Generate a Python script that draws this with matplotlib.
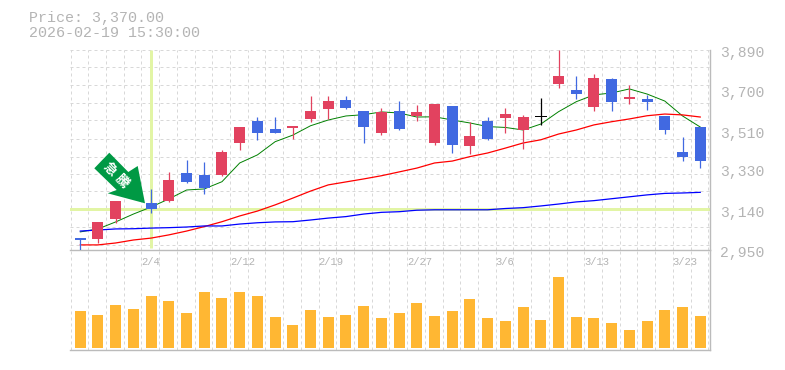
import matplotlib
matplotlib.use('Agg')
import matplotlib.pyplot as plt
from matplotlib.patches import Polygon

# Candle values (yen)
opens = [3006, 3003, 3096, 3279, 3169, 3180, 3312, 3302, 3302, 3453, 3556, 3519,
         3523, 3566, 3613, 3655, 3603, 3500, 3603, 3580, 3453, 3627, 3439, 3556,
         3570, 3514, 3578, 3730, 3702, 3622, 3754, 3660, 3660, 3580, 3411, 3528]
highs = [3006, 3082, 3180, 3302, 3237, 3315, 3372, 3362, 3420, 3528, 3576, 3576,
         3533, 3674, 3674, 3674, 3603, 3617, 3650, 3632, 3636, 3627, 3552, 3575,
         3617, 3585, 3664, 3890, 3768, 3777, 3758, 3726, 3679, 3580, 3481, 3528]
lows = [2950, 2984, 3077, 3208, 3124, 3177, 3266, 3215, 3299, 3420, 3467, 3501,
        3472, 3553, 3566, 3613, 3453, 3491, 3514, 3556, 3444, 3406, 3401, 3467,
        3500, 3425, 3537, 3711, 3660, 3603, 3603, 3636, 3608, 3495, 3368, 3335]
closes = [2997, 3082, 3180, 3223, 3144, 3279, 3271, 3241, 3409, 3528, 3501, 3501,
          3533, 3603, 3650, 3617, 3528, 3599, 3519, 3599, 3636, 3444, 3486, 3472,
          3589, 3575, 3578, 3768, 3683, 3758, 3646, 3669, 3646, 3514, 3387, 3370]

# Moving averages
ma_short = [3035, 3049, 3082, 3119, 3152, 3190, 3232, 3237, 3271, 3359, 3397, 3459,
            3490, 3534, 3561, 3580, 3586, 3599, 3594, 3575, 3576, 3561, 3547, 3530,
            3526, 3514, 3542, 3600, 3647, 3679, 3688, 3707, 3683, 3650, 3580, 3528]
ma_mid = [2974, 2974, 2983, 2997, 3006, 3021, 3039, 3060, 3083, 3110, 3133, 3162,
          3194, 3227, 3256, 3270, 3284, 3299, 3317, 3335, 3359, 3368, 3389, 3406,
          3429, 3453, 3468, 3495, 3514, 3538, 3553, 3566, 3581, 3589, 3585, 3575]
ma_long = [3039, 3044, 3049, 3050, 3053, 3055, 3058, 3063, 3063, 3072, 3078, 3082,
           3083, 3091, 3100, 3107, 3119, 3127, 3130, 3137, 3139, 3139, 3139, 3139,
           3145, 3149, 3157, 3166, 3176, 3182, 3191, 3200, 3209, 3216, 3218, 3221]

volumes = [37, 33, 43, 39, 52, 47, 35, 56, 50, 56, 52, 31, 23, 38, 31, 33, 42, 30,
           35, 45, 32, 37, 49, 30, 27, 41, 28, 71, 31, 30, 25, 18, 27, 38, 41, 32]

price_labels = [3890, 3700, 3510, 3330, 3140, 2950]
grid_prices = [3810, 3725, 3641, 3561, 3472, 3387, 3307, 3227, 3147, 3058, 2973]
date_labels = ['2/4', '2/12', '2/19', '2/27', '3/6', '3/13', '3/23']
date_index = [4, 9, 14, 19, 24, 29, 34]
marker_index = 4
marker_text = ['急', '騰']

RED = '#e2425f'
BLUE = '#4169e1'
GREY = '#bbbbbb'
TEXT = '#b4b4b4'
GRID = '#d8d8d8'
HILITE = '#e2f5a5'

plt.rcParams['font.family'] = ['Liberation Mono', 'DejaVu Sans Mono']

W, H = 785, 370
fig = plt.figure(figsize=(W / 100, H / 100), dpi=100)
ax = fig.add_axes([70 / W, 1 - 250 / H, 640 / W, 200 / H])
vol = fig.add_axes([70 / W, 1 - 350 / H, 640 / W, 100 / H])

for a in (ax, vol):
    a.set_xlim(-0.58, 35.55)
    a.set_xticks([])
    a.set_yticks([])
    a.patch.set_alpha(0)
    for s in a.spines.values():
        s.set_color(GREY)
        s.set_linewidth(1.0)
    a.spines['top'].set_visible(False)
    a.spines['left'].set_visible(False)
    for k in range(37):
        a.axvline(k - 0.55, color=GRID, lw=0.72, ls=(0, (3, 3)), zorder=1)

ax.set_ylim(2950, 3890)
vol.set_ylim(-2, 98)

for p in grid_prices + [3888]:
    ax.axhline(p, color=GRID, lw=0.72, ls=(0, (3, 3)), zorder=1)

# crosshair on the marked day
ax.axhline(closes[marker_index], color=HILITE, lw=2.16, zorder=2)
ax.plot([marker_index, marker_index], [2960, 3890], color=HILITE, lw=2.16,
        zorder=2, solid_capstyle='butt')

xs = list(range(len(closes)))
ax.plot(xs, ma_short, color='#008000', lw=0.7, zorder=3)
ax.plot(xs, ma_mid, color='#ff0000', lw=0.9, zorder=3)
ax.plot(xs, ma_long, color='#0000ff', lw=0.9, zorder=3)

for i in xs:
    if closes[i] > opens[i]:
        c = RED
    elif closes[i] < opens[i]:
        c = BLUE
    else:
        c = 'black'
    ax.plot([i, i], [lows[i], highs[i]], color=c, lw=0.9, zorder=4, solid_capstyle='butt')
    if closes[i] == opens[i]:
        ax.plot([i - 0.31, i + 0.31], [closes[i], closes[i]], color=c, lw=0.72, zorder=4)
    else:
        ax.bar(i, abs(closes[i] - opens[i]), bottom=min(opens[i], closes[i]), width=0.62,
               color=c, linewidth=0, antialiased=False, zorder=4)

vol.bar(xs, volumes, width=0.62, color='#ffb733', linewidth=0, antialiased=False, zorder=3)

# price axis labels
for p in price_labels:
    ax.annotate(f'{p:,}', (1, p), xycoords=('axes fraction', 'data'), xytext=(10, -3),
                textcoords='offset pixels', color=TEXT, fontsize=10.6, va='center',
                annotation_clip=False)

# date labels
for i, d in zip(date_index, date_labels):
    vol.annotate(d, (i - 0.55, 98), xycoords='data', xytext=(0, -12),
                 textcoords='offset pixels', color=TEXT, fontsize=7.6, va='center')

# head text
fig.text(29 / W, 1 - 18 / H, f'Price: {closes[-1]:,.2f}', color=TEXT, fontsize=10.8, va='center')
fig.text(29 / W, 1 - 33 / H, '2026-02-19 15:30:00', color=TEXT, fontsize=10.8, va='center')

# green marker arrow
arrow_px = [(109.3, 152.7), (94.3, 168.3), (116.7, 190), (107.7, 193.3), (145, 203.3),
            (137.7, 166), (128.3, 172)]
arrow_fig = [(x / W, 1 - y / H) for x, y in arrow_px]
fig.add_artist(Polygon(arrow_fig, closed=True, transform=fig.transFigure,
                       facecolor='#009944', edgecolor='none', zorder=10))
for (x, y), t in zip([(110, 169), (122, 181)], marker_text):
    fig.text(x / W, 1 - y / H, t, color='white', fontsize=9.5, rotation=-45, ha='center',
             va='center', family=['Noto Sans CJK JP', 'DejaVu Sans'], fontweight='bold',
             zorder=11)

fig.savefig('out.png', dpi=100)
plt.close(fig)
